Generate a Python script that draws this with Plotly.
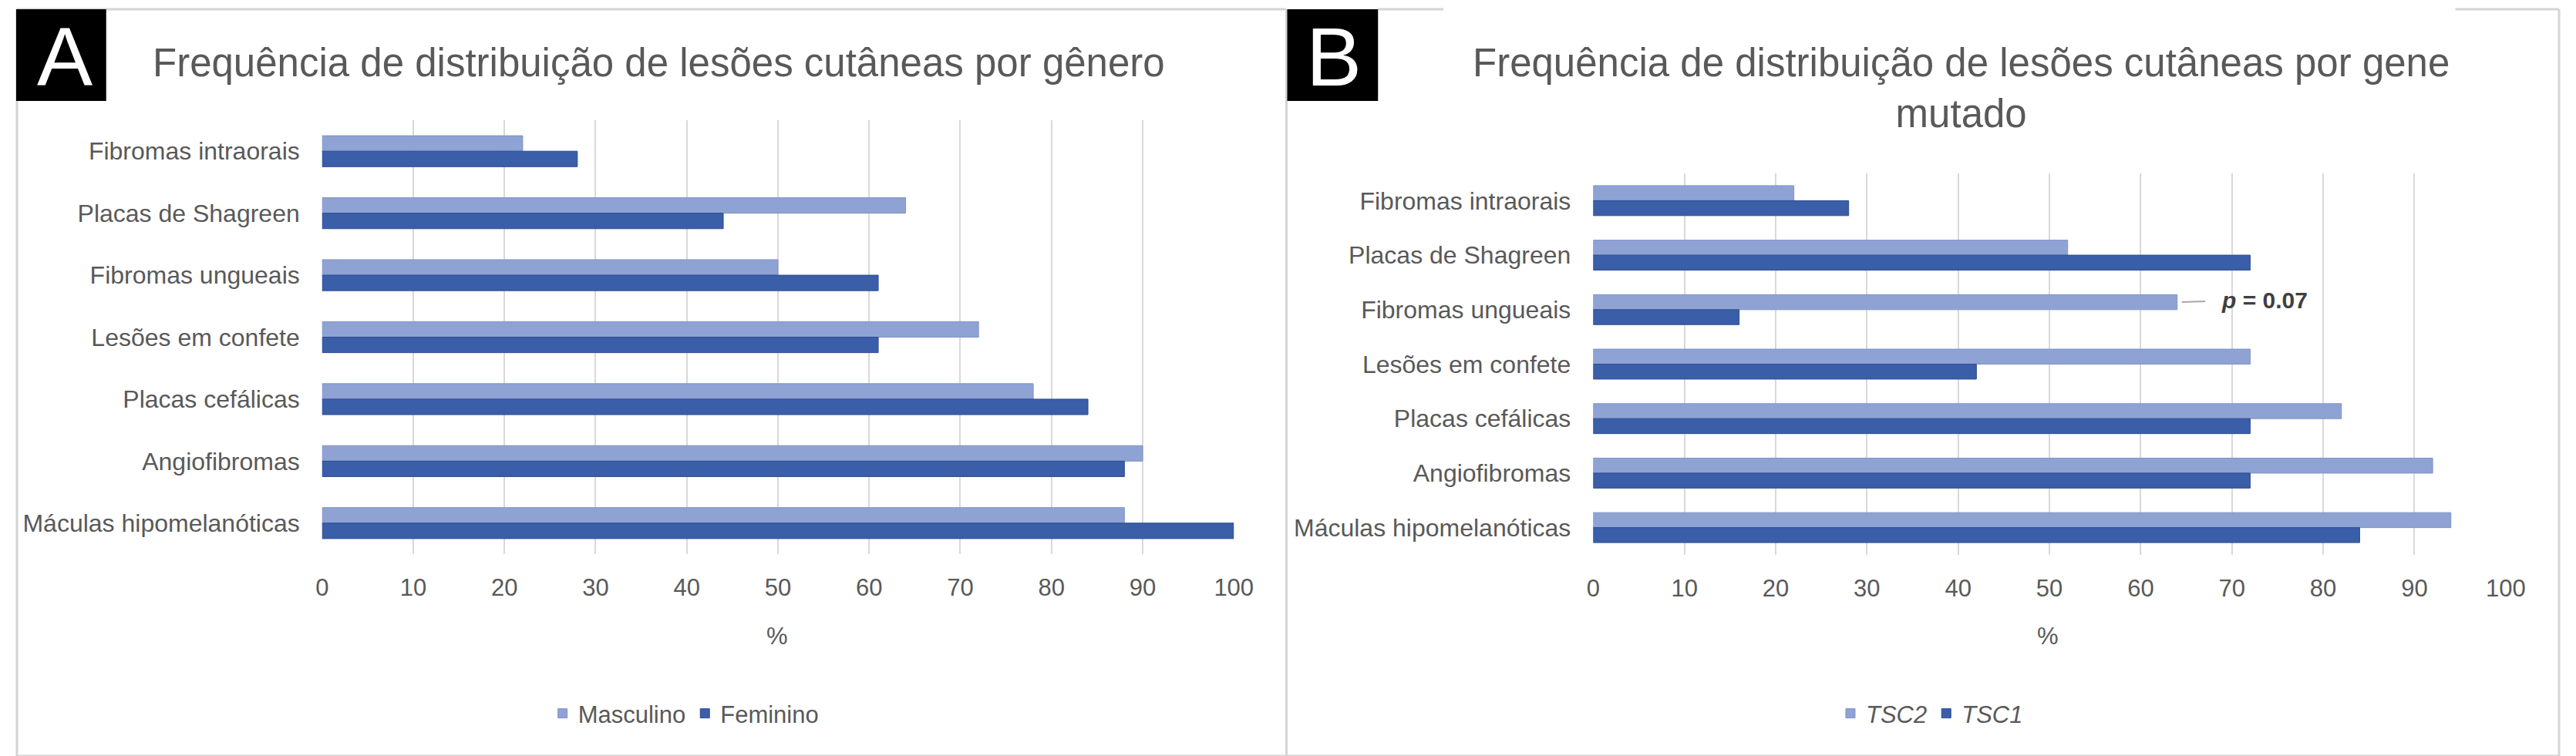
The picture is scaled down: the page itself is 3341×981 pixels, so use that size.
import plotly.graph_objects as go

W, H = 3341, 981

categories = [
    "Fibromas intraorais",
    "Placas de Shagreen",
    "Fibromas ungueais",
    "Lesões em confete",
    "Placas cefálicas",
    "Angiofibromas",
    "Máculas hipomelanóticas",
]

masculino = [22, 64, 50, 72, 78, 90, 88]
feminino = [28, 44, 61, 61, 84, 88, 100]

tsc2 = [22, 52, 64, 72, 82, 92, 94]
tsc1 = [28, 72, 16, 42, 72, 72, 84]

x_ticks = list(range(0, 101, 10))

title_a = "Frequência de distribuição de lesões cutâneas por gênero"
title_b = "Frequência de distribuição de lesões cutâneas por gene<br>mutado"

LIGHT = "#8FA2D4"
LIGHT_LINE = "#7F93C6"
DARK = "#3A5EA8"
DARK_LINE = "#2E4D90"
TXT = "#595959"
GRID = "#D9D9D9"
BORDER = "#D4D4D4"
FONT = "Liberation Sans, Arial, sans-serif"


def px(x):
    return x / W


def py(y):
    return 1 - y / H


fig = go.Figure()

wa = 0.25
wb = 0.275
fig.add_trace(go.Bar(y=categories, x=masculino, orientation="h", name="Masculino",
                     marker=dict(color=LIGHT, line=dict(color=LIGHT_LINE, width=1)),
                     width=wa, offset=-wa, xaxis="x", yaxis="y", legend="legend"))
fig.add_trace(go.Bar(y=categories, x=feminino, orientation="h", name="Feminino",
                     marker=dict(color=DARK, line=dict(color=DARK_LINE, width=1)),
                     width=wa, offset=0, xaxis="x", yaxis="y", legend="legend"))
fig.add_trace(go.Bar(y=categories, x=tsc2, orientation="h", name="<i>TSC2</i>",
                     marker=dict(color=LIGHT, line=dict(color=LIGHT_LINE, width=1)),
                     width=wb, offset=-wb, xaxis="x2", yaxis="y2", legend="legend2"))
fig.add_trace(go.Bar(y=categories, x=tsc1, orientation="h", name="<i>TSC1</i>",
                     marker=dict(color=DARK, line=dict(color=DARK_LINE, width=1)),
                     width=wb, offset=0, xaxis="x2", yaxis="y2", legend="legend2"))

xaxis_common = dict(range=[0, 100], tickvals=x_ticks, showgrid=True, gridcolor=GRID,
                    gridwidth=2, zeroline=False, showline=False, ticks="",
                    tickfont=dict(size=31, color=TXT, family=FONT),
                    ticklabelstandoff=22, fixedrange=True)
yaxis_common = dict(type="category", categoryorder="array", categoryarray=categories,
                    autorange="reversed", showgrid=False, zeroline=False, showline=False,
                    ticks="", tickfont=dict(size=32, color=TXT, family=FONT),
                    ticklabelstandoff=28, fixedrange=True)

fig.update_layout(
    width=W, height=H,
    margin=dict(l=0, r=0, t=0, b=0),
    paper_bgcolor="white", plot_bgcolor="white",
    font=dict(family=FONT, color=TXT),
    barmode="group",
    xaxis=dict(domain=[px(405), px(1600)], anchor="y", **xaxis_common),
    yaxis=dict(domain=[py(711), py(148)], anchor="x", **yaxis_common),
    xaxis2=dict(domain=[px(2071), px(3267)], anchor="y2", **xaxis_common),
    yaxis2=dict(domain=[py(712), py(217)], anchor="x2", **yaxis_common),
    legend=dict(orientation="h", x=px(700), y=py(918), xanchor="left", yanchor="middle",
                font=dict(size=31, color=TXT, family=FONT), bgcolor="rgba(0,0,0,0)",
                itemclick=False, itemdoubleclick=False, traceorder="normal"),
    legend2=dict(orientation="h", x=px(2388), y=py(918), xanchor="left", yanchor="middle",
                 font=dict(size=31, color=TXT, family=FONT), bgcolor="rgba(0,0,0,0)",
                 itemclick=False, itemdoubleclick=False, traceorder="normal"),
    showlegend=True,
)

shapes = []
bw = 3
shapes.append(dict(type="line", xref="paper", yref="paper", x0=px(5), x1=px(1668), y0=py(4), y1=py(4),
                   line=dict(color=BORDER, width=bw)))
shapes.append(dict(type="line", xref="paper", yref="paper", x0=px(5), x1=px(5), y0=py(4), y1=py(973),
                   line=dict(color=BORDER, width=bw)))
shapes.append(dict(type="line", xref="paper", yref="paper", x0=px(1669), x1=px(1669), y0=py(4), y1=py(973),
                   line=dict(color=BORDER, width=bw)))
shapes.append(dict(type="line", xref="paper", yref="paper", x0=px(5), x1=px(3337), y0=py(973), y1=py(973),
                   line=dict(color=BORDER, width=bw)))
shapes.append(dict(type="line", xref="paper", yref="paper", x0=px(1789), x1=px(1875), y0=py(4), y1=py(4),
                   line=dict(color=BORDER, width=bw)))
shapes.append(dict(type="line", xref="paper", yref="paper", x0=px(3201), x1=px(3337), y0=py(4), y1=py(4),
                   line=dict(color=BORDER, width=bw)))
shapes.append(dict(type="line", xref="paper", yref="paper", x0=px(3337), x1=px(3337), y0=py(4), y1=py(973),
                   line=dict(color=BORDER, width=bw)))
shapes.append(dict(type="rect", xref="paper", yref="paper", x0=px(4), x1=px(122), y0=py(123), y1=py(4),
                   fillcolor="black", line=dict(width=0), layer="above"))
shapes.append(dict(type="rect", xref="paper", yref="paper", x0=px(1670), x1=px(1789), y0=py(123), y1=py(4),
                   fillcolor="black", line=dict(width=0), layer="above"))
fig.update_layout(shapes=shapes)

annotations = [
    dict(text="A", xref="paper", yref="paper", x=px(68), y=py(66), xanchor="center", yanchor="middle",
         showarrow=False, font=dict(size=108, color="white", family=FONT)),
    dict(text="B", xref="paper", yref="paper", x=px(1731), y=py(66), xanchor="center", yanchor="middle",
         showarrow=False, font=dict(size=108, color="white", family=FONT)),
    dict(text=title_a, xref="paper", yref="paper", x=px(846), y=py(74), xanchor="center", yanchor="middle",
         showarrow=False, font=dict(size=51, color=TXT, family=FONT)),
    dict(text=title_b, xref="paper", yref="paper", x=px(2553), y=py(106), xanchor="center", yanchor="middle",
         showarrow=False, font=dict(size=51, color=TXT, family=FONT)),
    dict(text="%", xref="paper", yref="paper", x=px(1001), y=py(817), xanchor="center", yanchor="middle",
         showarrow=False, font=dict(size=31, color=TXT, family=FONT)),
    dict(text="%", xref="paper", yref="paper", x=px(2667), y=py(817), xanchor="center", yanchor="middle",
         showarrow=False, font=dict(size=31, color=TXT, family=FONT)),
    dict(text="<b><i>p</i> = 0.07</b>", xref="x2", yref="y2",
         x=tsc2[2], y=categories.index("Fibromas ungueais") - wb / 2,
         ax=113, ay=-3, axref="pixel", ayref="pixel",
         showarrow=True, arrowhead=0, arrowwidth=2, arrowcolor="#A6A6A6", standoff=6,
         borderpad=20, font=dict(size=30, color="#404040", family=FONT)),
]
fig.update_layout(annotations=annotations)

fig.write_html("out.html")
